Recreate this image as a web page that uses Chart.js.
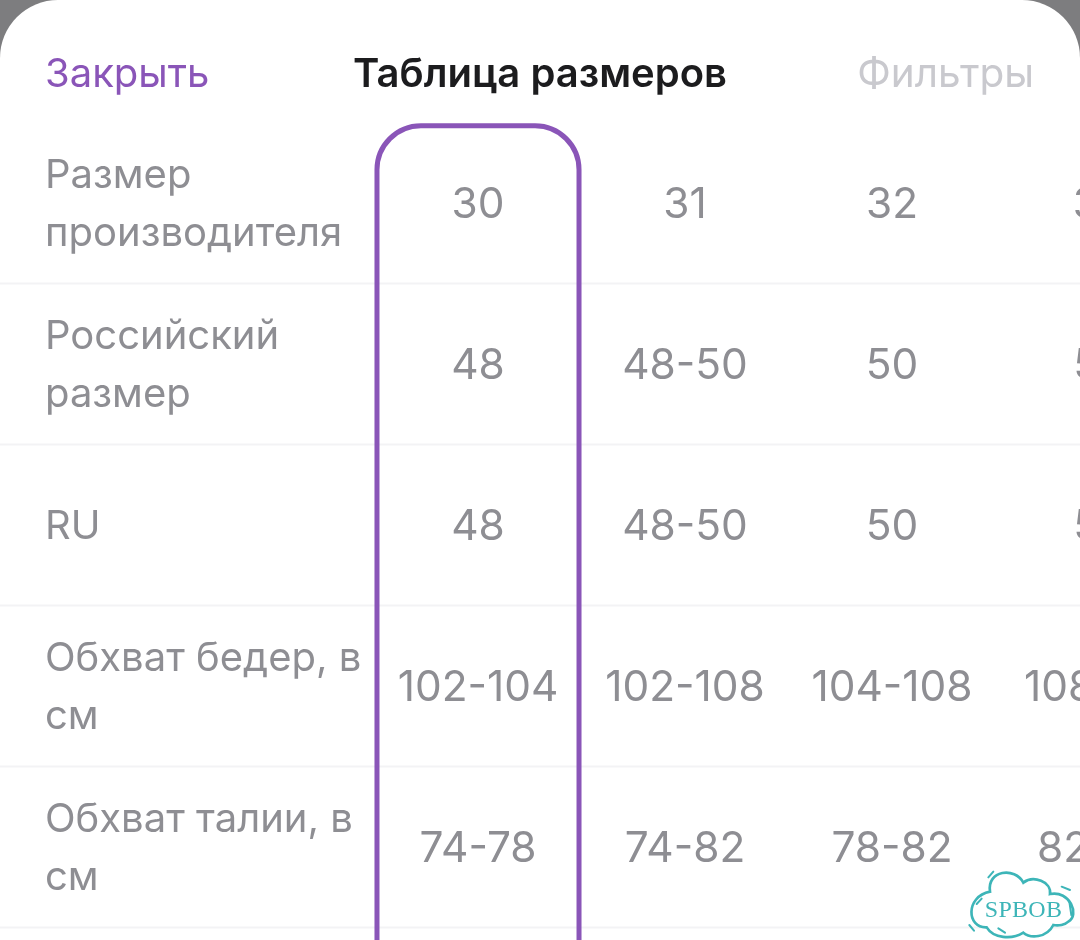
<!DOCTYPE html>
<html lang="ru">
<head>
<meta charset="utf-8">
<title>Таблица размеров</title>
<script src="https://cdn.jsdelivr.net/npm/chart.js@4"></script>
<style>
  html, body { margin: 0; padding: 0; background: #7d7d7f; overflow: hidden; }
  canvas { display: block; }
</style>
</head>
<body>
<canvas id="sizes" width="1080" height="940"></canvas>
<script>
// table contents
const manufacturerSizes = ['30', '31', '32', '33'];
const russianSizes = ['48', '48-50', '50', '52'];
const ruSizes = ['48', '48-50', '50', '52'];
const hipSizes = ['102-104', '102-108', '104-108', '108-112'];
const waistSizes = ['74-78', '74-82', '78-82', '82-86'];
const tableRows = [manufacturerSizes, russianSizes, ruSizes, hipSizes, waistSizes];

const rowLabels = [
  ['Размер', 'производителя'],
  ['Российский', 'размер'],
  ['RU'],
  ['Обхват бедер, в', 'см'],
  ['Обхват талии, в', 'см']
];

const closeLabel = 'Закрыть';
const titleLabel = 'Таблица размеров';
const filterLabel = 'Фильтры';
const watermarkLabel = 'SPBOB';
const selectedColumn = 0;

const FONT = 'Inter, "Noto Sans", sans-serif';
const GREY = '#8e8e93';
const PURPLE = '#8a55b8';
const TEAL = '#3db5b8';

function text(ctx, str, x, y, font, color, align, spacing) {
  ctx.font = font;
  ctx.fillStyle = color;
  ctx.textAlign = align;
  ctx.textBaseline = 'middle';
  ctx.letterSpacing = spacing || '0px';
  ctx.fillText(str, x, y);
  ctx.letterSpacing = '0px';
}

function drawCloud(ctx) {
  // outline measured on a 3x crop, so scale down from there
  ctx.save();
  ctx.translate(940, 840);
  ctx.scale(1 / 3, 1 / 3);
  ctx.strokeStyle = TEAL;
  ctx.lineWidth = 8;
  ctx.lineCap = 'round';
  ctx.fillStyle = '#fff';
  ctx.beginPath();
  ctx.moveTo(150, 155);
  ctx.bezierCurveTo(140, 90, 225, 80, 250, 128);
  ctx.bezierCurveTo(280, 105, 335, 125, 330, 162);
  ctx.bezierCurveTo(390, 150, 420, 225, 385, 245);
  ctx.bezierCurveTo(375, 255, 355, 258, 340, 255);
  ctx.bezierCurveTo(320, 295, 270, 295, 250, 278);
  ctx.bezierCurveTo(215, 300, 160, 295, 140, 262);
  ctx.bezierCurveTo(80, 265, 75, 170, 150, 155);
  ctx.closePath();
  ctx.fill();
  ctx.stroke();
  const dashes = [[145, 112, 160, 95], [365, 140, 390, 150], [88, 255, 102, 272],
    [175, 265, 195, 278], [110, 192, 125, 176], [388, 185, 394, 225]];
  ctx.lineWidth = 6;
  dashes.forEach(d => {
    ctx.beginPath();
    ctx.moveTo(d[0], d[1]);
    ctx.lineTo(d[2], d[3]);
    ctx.stroke();
  });
  ctx.restore();
  text(ctx, watermarkLabel, 1023.5, 911, '24px "Liberation Serif", serif', TEAL, 'center', '0.3px');
}

const sheetPlugin = {
  id: 'sheet',
  beforeDatasetsDraw(chart) {
    const { ctx, width, height, scales } = chart;
    const { y } = scales;

    // white sheet with rounded top corners
    ctx.save();
    ctx.fillStyle = '#fff';
    ctx.beginPath();
    ctx.roundRect(0, 0, width, height + 80, 58);
    ctx.fill();

    // row dividers
    ctx.strokeStyle = '#f3f3f5';
    ctx.lineWidth = 2;
    tableRows.forEach((row, i) => {
      const py = y.getPixelForValue(i + 0.5);
      ctx.beginPath();
      ctx.moveTo(0, py);
      ctx.lineTo(width, py);
      ctx.stroke();
    });

    // header
    text(ctx, closeLabel, 45, 75, '400 40px ' + FONT, PURPLE, 'left');
    text(ctx, titleLabel, 540, 75, '600 40px ' + FONT, '#1c1c1e', 'center');
    text(ctx, filterLabel, 1034, 75, '400 40.5px ' + FONT, '#c9c9ce', 'right');

    // row names
    rowLabels.forEach((lines, i) => {
      const py = y.getPixelForValue(i) + 2;
      lines.forEach((line, k) => {
        const off = (k - (lines.length - 1) / 2) * 58;
        text(ctx, line, 45, py + off, '400 40px ' + FONT, GREY, 'left');
      });
    });
    ctx.restore();
  },
  afterDatasetsDraw(chart) {
    const { ctx, scales } = chart;
    const { x, y } = scales;
    ctx.save();
    // cell values sit on the points of each row dataset
    chart.data.datasets.forEach((ds, i) => {
      chart.getDatasetMeta(i).data.forEach((pt, j) => {
        text(ctx, ds.data[j].label, pt.x, pt.y + 2, '400 42.4px ' + FONT, GREY, 'center');
      });
    });

    // selected column frame
    const left = x.getPixelForValue(selectedColumn - 0.488);
    const right = x.getPixelForValue(selectedColumn + 0.488);
    const top = y.getPixelForValue(-0.48);
    ctx.strokeStyle = PURPLE;
    ctx.lineWidth = 5;
    ctx.beginPath();
    ctx.roundRect(left, top, right - left, chart.height + 100 - top, 44);
    ctx.stroke();

    drawCloud(ctx);
    ctx.restore();
  }
};

new Chart(document.getElementById('sizes'), {
  type: 'scatter',
  data: {
    datasets: tableRows.map((row, r) => ({
      label: rowLabels[r].join(' '),
      data: row.map((v, c) => ({ x: c, y: r, label: v })),
      pointRadius: 0,
      pointHoverRadius: 0
    }))
  },
  options: {
    responsive: false,
    animation: false,
    events: [],
    layout: { padding: 0 },
    plugins: { legend: { display: false }, tooltip: { enabled: false }, title: { display: false } },
    scales: {
      x: { type: 'linear', display: false, min: -478 / 207, max: 602 / 207 },
      y: { type: 'linear', display: false, reverse: true, min: -203 / 161, max: 737 / 161 }
    }
  },
  plugins: [sheetPlugin]
});
</script>
</body>
</html>
